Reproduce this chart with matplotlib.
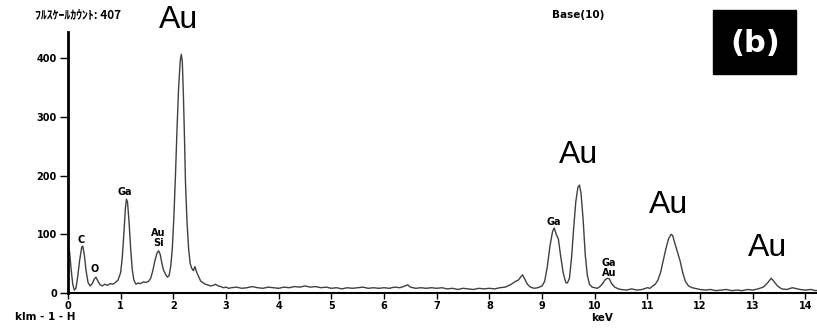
import matplotlib
matplotlib.use("Agg")
import matplotlib.pyplot as plt

# EDS spectrum (keV, counts)
energy = [
    0.00, 0.03, 0.06, 0.09, 0.12, 0.15, 0.18, 0.22, 0.26, 0.28, 0.31, 0.34, 0.38,
    0.42, 0.46, 0.50, 0.53, 0.57, 0.61, 0.65, 0.70, 0.75, 0.80, 0.85, 0.90, 0.95,
    1.00, 1.03, 1.06, 1.09, 1.11, 1.13, 1.16, 1.19, 1.22, 1.25, 1.29, 1.33, 1.38,
    1.43, 1.48, 1.53, 1.57, 1.61, 1.65, 1.69, 1.72, 1.75, 1.78, 1.81, 1.85, 1.89,
    1.92, 1.95, 1.98, 2.01, 2.04, 2.07, 2.10, 2.13, 2.15, 2.17, 2.19, 2.21, 2.23,
    2.26, 2.29, 2.32, 2.35, 2.38, 2.41, 2.44, 2.48, 2.52, 2.56, 2.60, 2.65, 2.70,
    2.76, 2.80, 2.85, 2.90, 2.95, 3.00, 3.05, 3.10, 3.20, 3.30, 3.40, 3.50, 3.60,
    3.70, 3.80, 3.90, 4.00, 4.10, 4.20, 4.30, 4.40, 4.50, 4.60, 4.70, 4.80, 4.90,
    5.00, 5.10, 5.20, 5.30, 5.40, 5.50, 5.60, 5.70, 5.80, 5.90, 6.00, 6.10, 6.20,
    6.30, 6.40, 6.45, 6.50, 6.60, 6.70, 6.80, 6.90, 7.00, 7.10, 7.20, 7.30, 7.40,
    7.50, 7.60, 7.70, 7.80, 7.90, 8.00, 8.10, 8.20, 8.30, 8.40, 8.50, 8.55, 8.60,
    8.63, 8.67, 8.72, 8.78, 8.85, 8.92, 9.00, 9.05, 9.10, 9.15, 9.20, 9.23, 9.27,
    9.31, 9.35, 9.40, 9.45, 9.48, 9.52, 9.56, 9.60, 9.64, 9.68, 9.71, 9.74, 9.78,
    9.82, 9.86, 9.90, 9.95, 10.00, 10.05, 10.10, 10.15, 10.20, 10.24, 10.28, 10.32,
    10.38, 10.45, 10.50, 10.60, 10.70, 10.80, 10.90, 11.00, 11.05, 11.10, 11.15,
    11.20, 11.25, 11.30, 11.35, 11.40, 11.45, 11.48, 11.52, 11.57, 11.62, 11.67,
    11.72, 11.78, 11.85, 11.90, 12.00, 12.10, 12.20, 12.30, 12.40, 12.50, 12.60,
    12.70, 12.80, 12.90, 13.00, 13.10, 13.20, 13.28, 13.35, 13.40, 13.47, 13.55,
    13.65, 13.75, 13.80, 13.90, 14.00, 14.10, 14.20, 14.25,
]
counts = [
    75, 70, 40, 15, 5, 8, 25, 55, 78, 80, 65, 40, 18,
    12, 16, 24, 27, 20, 14, 12, 15, 13, 16, 15, 18, 22,
    35, 60, 100, 145, 160, 155, 120, 75, 40, 22, 15, 17, 16,
    19, 18, 20, 25, 38, 55, 68, 72, 66, 52, 40, 32, 27,
    30, 45, 75, 130, 200, 280, 350, 395, 407, 395, 340, 270, 190,
    120, 75, 50, 42, 38, 45, 36, 28, 20, 18, 15, 14, 12,
    13, 15, 12, 11, 9, 10, 8, 9, 10, 8, 9, 11, 9,
    8, 10, 9, 8, 10, 9, 11, 10, 12, 10, 11, 9, 10,
    8, 9, 7, 9, 8, 9, 10, 8, 9, 8, 9, 8, 10,
    9, 12, 14, 10, 8, 9, 8, 9, 8, 9, 7, 8, 6,
    8, 7, 6, 8, 7, 8, 7, 9, 10, 14, 20, 22, 28,
    31, 24, 15, 10, 8, 9, 12, 20, 45, 80, 105, 111, 100,
    92, 65, 35, 18, 17, 25, 60, 110, 155, 180, 184, 170, 125,
    65, 30, 15, 10, 9, 8, 11, 16, 23, 25, 24, 16,
    10, 7, 6, 5, 7, 5, 6, 9, 8, 12, 15,
    22, 35, 55, 75, 92, 100, 98, 85, 70, 55, 35,
    20, 12, 9, 8, 6, 5, 6, 4, 5, 6, 4,
    5, 4, 6, 5, 7, 10, 17, 25, 20, 12, 7,
    6, 9, 8, 6, 5, 6, 4, 5,
]

x_ticks = list(range(0, 15))
y_ticks = [0, 100, 200, 300, 400]

# small element labels: (text, keV, counts)
small_labels = [
    ("C", 0.25, 90),
    ("O", 0.50, 41),
    ("Ga", 1.08, 172),
    ("Au\nSi", 1.71, 93),
    ("Ga", 9.23, 121),
    ("Ga\nAu", 10.27, 42),
]
# big Au labels
au_labels = [(2.09, 465), (9.69, 235), (11.41, 150), (13.29, 77)]

fig = plt.figure(figsize=(8.17, 3.29), dpi=100)
ax = fig.add_axes([68 / 817, 36 / 329, 749 / 817, 261 / 329])

ax.plot(energy, counts, color="#404040", lw=1.0)

ax.set_xlim(0, 14.22)
ax.set_ylim(0, 445)
ax.spines["top"].set_visible(False)
ax.spines["right"].set_visible(False)
ax.spines["left"].set_linewidth(2)
ax.spines["bottom"].set_linewidth(1.5)

ax.set_xticks(x_ticks)
ax.set_yticks(y_ticks)
ax.tick_params(axis="x", direction="out", length=4, width=1, pad=1.5)
ax.tick_params(axis="y", direction="out", length=6, width=1, pad=2)
for lab in ax.get_xticklabels() + ax.get_yticklabels():
    lab.set_fontsize(7)
    lab.set_fontweight("bold")

for txt, x, y in small_labels:
    ax.text(x, y, txt, ha="center", va="center", fontsize=7,
            fontweight="bold", linespacing=1.0)

for x, y in au_labels:
    ax.text(x, y, "Au", ha="center", va="center", fontsize=23,
            family="Liberation Sans", clip_on=False)

fig.text(35 / 817, 1 - 15 / 329, "ﾌﾙｽｹｰﾙｶｳﾝﾄ: 407", ha="left",
         va="center", fontsize=8.5, fontweight="bold",
         family=["Noto Sans CJK JP", "DejaVu Sans"])
fig.text(578 / 817, 1 - 15 / 329, "Base(10)", ha="center", va="center",
         fontsize=7.5, fontweight="bold")
fig.text(15 / 817, 1 - 317 / 329, "klm - 1 - H", ha="left", va="center",
         fontsize=7.5, fontweight="bold")
fig.text(602 / 817, 1 - 318 / 329, "keV", ha="center", va="center",
         fontsize=7.5, fontweight="bold")

# black "(b)" box
fig.patches.append(plt.Rectangle((713 / 817, 1 - 74 / 329), 83 / 817, 64 / 329,
                                 transform=fig.transFigure, color="black"))
fig.text(755 / 817, 1 - 43 / 329, "(b)", ha="center", va="center",
         fontsize=22, fontweight="bold", color="white")

fig.savefig("out.png", dpi=100)
